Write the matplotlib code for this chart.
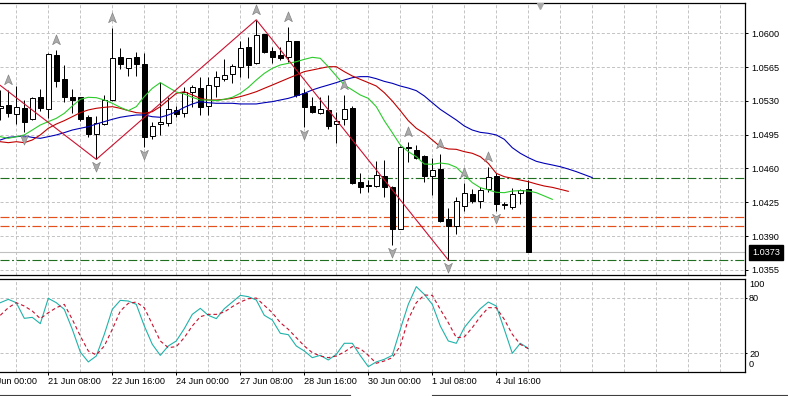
import numpy as np
import matplotlib
matplotlib.use('Agg')
import matplotlib.pyplot as plt
from matplotlib.path import Path
from matplotlib.lines import Line2D
import matplotlib.transforms as mtransforms

plt.rcParams['font.family'] = ['Liberation Sans', 'DejaVu Sans']
plt.rcParams['lines.scale_dashes'] = False

# ---------------- data (4H candles) ----------------
opens = [1.05223, 1.05257, 1.05164, 1.05230, 1.05109, 1.05337, 1.05212, 1.05775, 1.05523, 1.05340,
         1.05337, 1.05136, 1.04953, 1.05060, 1.05305, 1.05751, 1.05644, 1.05751, 1.05682, 1.04940,
         1.05057, 1.05067, 1.05206, 1.05171, 1.05389, 1.05430, 1.05247, 1.05454, 1.05530, 1.05578,
         1.05647, 1.05855, 1.05689, 1.05993, 1.05820, 1.05775, 1.05758, 1.05920, 1.05378, 1.05247,
         1.05171, 1.05206, 1.05057, 1.05109, 1.05223, 1.04456, 1.04429, 1.04418, 1.04522, 1.04404,
         1.03976, 1.04826, 1.04791, 1.04732, 1.04522, 1.04594, 1.04076, 1.04007, 1.04215, 1.04339,
         1.04259, 1.04384, 1.04522, 1.04218, 1.04204, 1.04342, 1.04387]
highs = [1.05413, 1.05413, 1.05454, 1.05309, 1.05337, 1.05423, 1.05793, 1.05827, 1.05672, 1.05420,
         1.05337, 1.05154, 1.05143, 1.05361, 1.06058, 1.05851, 1.05748, 1.05810, 1.05799, 1.05085,
         1.05499, 1.05344, 1.05247, 1.05440, 1.05464, 1.05551, 1.05551, 1.05610, 1.05734, 1.05679,
         1.05924, 1.05958, 1.06140, 1.05993, 1.05862, 1.05862, 1.06069, 1.05920, 1.05420, 1.05344,
         1.05344, 1.05361, 1.05188, 1.05361, 1.05247, 1.04549, 1.04480, 1.04681, 1.04688, 1.04418,
         1.04836, 1.04877, 1.04843, 1.04739, 1.04705, 1.04746, 1.04187, 1.04308, 1.04446, 1.04387,
         1.04404, 1.04618, 1.04549, 1.04256, 1.04394, 1.04387, 1.04480]
lows = [1.05102, 1.05136, 1.05060, 1.04981, 1.05102, 1.05199, 1.05119, 1.05440, 1.05292, 1.05178,
        1.05095, 1.04929, 1.04694, 1.05050, 1.05300, 1.05630, 1.05558, 1.05558, 1.04826, 1.04902,
        1.04947, 1.05040, 1.05130, 1.05130, 1.05233, 1.05154, 1.05154, 1.05344, 1.05502, 1.05489,
        1.05544, 1.05534, 1.05680, 1.05799, 1.05689, 1.05723, 1.05706, 1.05344, 1.05033, 1.05178,
        1.05164, 1.05009, 1.04860, 1.05050, 1.04436, 1.04349, 1.04360, 1.04404, 1.04301, 1.03807,
        1.03969, 1.04670, 1.04694, 1.04463, 1.04325, 1.04050, 1.03652, 1.03921, 1.04163, 1.04239,
        1.04190, 1.04360, 1.04163, 1.04177, 1.04177, 1.04232, 1.03731]
closes = [1.05247, 1.05171, 1.05233, 1.05085, 1.05326, 1.05223, 1.05786, 1.05509, 1.05344, 1.05309,
          1.05112, 1.04957, 1.05067, 1.05309, 1.05741, 1.05679, 1.05741, 1.05679, 1.04929, 1.05043,
          1.05078, 1.05212, 1.05164, 1.05395, 1.05440, 1.05233, 1.05464, 1.05551, 1.05565, 1.05661,
          1.05844, 1.05675, 1.05982, 1.05810, 1.05758, 1.05748, 1.05924, 1.05361, 1.05233, 1.05188,
          1.05216, 1.05043, 1.05095, 1.05216, 1.04446, 1.04404, 1.04418, 1.04532, 1.04411, 1.03969,
          1.04826, 1.04808, 1.04712, 1.04525, 1.04584, 1.04059, 1.04007, 1.04263, 1.04342, 1.04263,
          1.04377, 1.04508, 1.04228, 1.04228, 1.04332, 1.04377, 1.03731]

# Alligator lines (drawn with their forward shift)
lips = [1.04929, 1.04912, 1.04929, 1.04947, 1.04998, 1.05050, 1.05085, 1.05119, 1.05171, 1.05247,
        1.05316, 1.05337, 1.05333, 1.05309, 1.05275, 1.05233, 1.05199, 1.05240, 1.05344, 1.05430,
        1.05489, 1.05440, 1.05392, 1.05371, 1.05337, 1.05309, 1.05309, 1.05302, 1.05316, 1.05337,
        1.05378, 1.05440, 1.05516, 1.05585, 1.05637, 1.05672, 1.05689, 1.05706, 1.05730, 1.05751,
        1.05741, 1.05654, 1.05558, 1.05464, 1.05413, 1.05361, 1.05326, 1.05240, 1.05095, 1.04971,
        1.04843, 1.04774, 1.04722, 1.04646, 1.04643, 1.04656, 1.04646, 1.04612, 1.04532, 1.04453,
        1.04401, 1.04377, 1.04353, 1.04349, 1.04366, 1.04370, 1.04366, 1.04349, 1.04315, 1.04280]
teeth = [1.04877, 1.04867, 1.04877, 1.04867, 1.04895, 1.04947, 1.05016, 1.05060, 1.05095, 1.05136,
         1.05178, 1.05206, 1.05223, 1.05233, 1.05240, 1.05223, 1.05199, 1.05178, 1.05171, 1.05188,
         1.05240, 1.05309, 1.05378, 1.05395, 1.05361, 1.05326, 1.05309, 1.05309, 1.05316, 1.05326,
         1.05344, 1.05368, 1.05395, 1.05430, 1.05464, 1.05499, 1.05534, 1.05568, 1.05603, 1.05620,
         1.05637, 1.05654, 1.05654, 1.05603, 1.05558, 1.05523, 1.05489, 1.05454, 1.05385, 1.05299,
         1.05199, 1.05095, 1.05016, 1.04964, 1.04895, 1.04826, 1.04802, 1.04798, 1.04774, 1.04757,
         1.04722, 1.04653, 1.04549, 1.04515, 1.04498, 1.04480, 1.04463, 1.04439, 1.04418, 1.04404,
         1.04384, 1.04363]
jaw = [1.04895, 1.04922, 1.04929, 1.04936, 1.04922, 1.04912, 1.04929, 1.04947, 1.04971, 1.04998,
       1.05016, 1.05033, 1.05060, 1.05085, 1.05109, 1.05130, 1.05143, 1.05154, 1.05154, 1.05136,
       1.05130, 1.05154, 1.05188, 1.05233, 1.05268, 1.05292, 1.05281, 1.05275, 1.05275, 1.05275,
       1.05268, 1.05268, 1.05268, 1.05281, 1.05292, 1.05309, 1.05326, 1.05351, 1.05378, 1.05413,
       1.05440, 1.05464, 1.05489, 1.05516, 1.05540, 1.05551, 1.05551, 1.05530, 1.05502, 1.05482,
       1.05454, 1.05433, 1.05406, 1.05351, 1.05281, 1.05212, 1.05157, 1.05102, 1.05040, 1.04998,
       1.04974, 1.04964, 1.04947, 1.04902, 1.04815, 1.04757, 1.04712, 1.04674, 1.04653, 1.04636,
       1.04618, 1.04594, 1.04567, 1.04536, 1.04505]

zigzag_index = [0, 12, 32, 56]
zigzag_price = [1.0546, 1.04694, 1.0614, 1.03652]

up_fractals = [1, 7, 14, 32, 36, 43, 51, 55, 58, 61]
down_fractals = [3, 12, 18, 38, 49, 56, 62]

green_levels = [1.0450, 1.0365]
orange_levels = [1.0410, 1.0400]
bid_price = 1.0373
chart_shift_index = 67.5

stoch_main = [74.6, 78.2, 74.6, 57.7, 58.8, 52.0, 79.3, 74.6, 67.4, 45.9,
              21.4, 10.7, 17.1, 40.5, 67.4, 77.1, 76.4, 72.8, 49.5, 29.7,
              17.8, 27.9, 33.3, 46.6, 62.0, 68.5, 61.0, 57.4, 68.1, 75.3,
              82.5, 81.1, 77.5, 61.0, 55.9, 41.6, 40.1, 27.9, 22.5, 15.3,
              17.8, 12.8, 18.9, 30.8, 30.8, 17.5, 5.6, 10.7, 13.5, 17.8,
              45.9, 72.8, 91.9, 83.6, 72.8, 49.5, 33.3, 30.8, 47.7, 58.4,
              68.1, 75.3, 71.0, 45.9, 20.0, 30.8, 25.4]
stoch_signal = [61.0, 69.2, 74.6, 71.0, 65.6, 57.4, 63.8, 69.2, 72.8, 56.6,
                38.7, 22.5, 18.2, 27.9, 45.9, 65.6, 73.9, 75.3, 69.2, 51.3,
                33.3, 26.1, 27.2, 36.9, 49.5, 59.5, 62.0, 62.0, 64.5, 70.3,
                75.3, 78.9, 79.6, 71.7, 63.8, 53.1, 45.9, 36.9, 27.9, 20.7,
                17.1, 15.3, 17.1, 21.4, 27.2, 25.0, 17.8, 9.2, 11.7, 15.3,
                27.9, 56.6, 74.6, 82.9, 82.5, 67.4, 53.1, 36.9, 37.6, 47.7,
                59.5, 69.2, 69.2, 56.6, 40.5, 29.7, 25.0]
stoch_levels = [20, 80]

time_label_index = [-2, 6, 14, 22, 30, 38, 46, 54, 62]
time_labels = ['20 Jun 00:00', '21 Jun 08:00', '22 Jun 16:00', '24 Jun 00:00', '27 Jun 08:00',
               '28 Jun 16:00', '30 Jun 00:00', '1 Jul 08:00', '4 Jul 16:00']
price_ticks = [1.0355, 1.0390, 1.0425, 1.0460, 1.0495, 1.0530, 1.0565, 1.0600]

# ---------------- layout ----------------
W, H = 788, 396
fig = plt.figure(figsize=(W / 100, H / 100), dpi=100)
fig.patch.set_facecolor('white')


def frac(l, t, r, b):
    return [l / W, 1 - b / H, (r - l) / W, (b - t) / H]


ax = fig.add_axes(frac(0, 2.7, 745, 275.3))
ax2 = fig.add_axes(frac(0, 278.5, 745, 371.7))

PX = 0.72  # one pixel in points
FS = 6.6
GRID = dict(color='#C4C4C4', lw=PX, ls=(0, (2.2, 1.5)), zorder=0)

xmin, xmax = -0.0375, 93.09
for a in (ax, ax2):
    a.set_xlim(xmin, xmax)
    a.set_facecolor('white')
    a.spines['left'].set_visible(False)
    for s in ('top', 'right', 'bottom'):
        a.spines[s].set_linewidth(0.9)
        a.spines[s].set_color('black')
    for gx in np.arange(2, xmax, 4):
        a.axvline(gx, **GRID)

# ---- main panel ----
ax.set_ylim(1.03493, 1.06317)
ax.set_yticks(price_ticks)
ax.set_yticklabels([f'{v:.4f}' for v in price_ticks])
ax.set_xticks([])
ax.yaxis.tick_right()
ax.tick_params(axis='y', right=True, left=False, labelright=True, labelleft=False,
               length=3 * PX, width=PX, pad=3.5 * PX, labelsize=FS, colors='black')
for yv in price_ticks:
    ax.axhline(yv, **GRID)

for v in green_levels:
    ax.axhline(v, color='#1F6E1F', lw=0.8, ls=(0, (6.5, 1.8, 1.4, 1.8)), zorder=2)
for v in orange_levels:
    ax.axhline(v, color='#E2501E', lw=0.85, ls=(0, (6.5, 1.8, 1.4, 1.8)), zorder=2)
ax.axhline(bid_price, color='#C0C0C0', lw=0.8, zorder=2)

o = np.array(opens); h = np.array(highs); l = np.array(lows); c = np.array(closes)
x = np.arange(len(o))
ax.vlines(x, l, h, color='black', lw=PX, zorder=3)
bodies_bottom = np.minimum(o, c)
bodies_h = np.maximum(np.abs(c - o), 1e-7)
body_colors = ['white' if cc >= oo else 'black' for oo, cc in zip(o, c)]
ax.bar(x, bodies_h, bottom=bodies_bottom, width=0.6, color=body_colors,
       edgecolor='black', linewidth=PX, zorder=4)

ax.plot(np.arange(len(jaw)), jaw, color='#0000B4', lw=0.8, zorder=5)
ax.plot(np.arange(len(teeth)), teeth, color='#C00000', lw=0.8, zorder=5)
ax.plot(np.arange(len(lips)), lips, color='#2BCB2B', lw=0.8, zorder=5)
ax.plot(zigzag_index, zigzag_price, color='#CC1030', lw=0.8, zorder=5)

up_arrow = Path([(0, 1), (0.7, -0.75), (0, -0.3), (-0.7, -0.75), (0, 1)],
                [Path.MOVETO, Path.LINETO, Path.LINETO, Path.LINETO, Path.CLOSEPOLY])
down_arrow = Path([(0, -1), (0.7, 0.75), (0, 0.3), (-0.7, 0.75), (0, -1)],
                  [Path.MOVETO, Path.LINETO, Path.LINETO, Path.LINETO, Path.CLOSEPOLY])
tr_up = mtransforms.offset_copy(ax.transData, fig=fig, x=0, y=10, units='dots')
tr_dn = mtransforms.offset_copy(ax.transData, fig=fig, x=0, y=-7, units='dots')
ax.plot(up_fractals, h[up_fractals], ls='none', marker=up_arrow, ms=8,
        mfc='#ABABAB', mec='#858585', mew=0.5, transform=tr_up, zorder=6)
ax.plot(down_fractals, l[down_fractals], ls='none', marker=down_arrow, ms=8,
        mfc='#ABABAB', mec='#858585', mew=0.5, transform=tr_dn, zorder=6)

blend = mtransforms.blended_transform_factory(ax.transData, ax.transAxes)
ax.plot([chart_shift_index], [0.988], marker='v', ms=4.5, color='#A8A8A8',
        transform=blend, ls='none', zorder=6)

tr_lbl = mtransforms.offset_copy(
    mtransforms.blended_transform_factory(ax.transAxes, ax.transData),
    fig=fig, x=7, y=0, units='dots')
ax.text(1.0, bid_price, f'{bid_price:.4f}', transform=tr_lbl, ha='left', va='center',
        color='white', fontsize=FS, clip_on=False, zorder=10,
        bbox=dict(boxstyle='square,pad=0.32', fc='black', ec='black'))

# ---- stochastic panel ----
ax2.set_ylim(0.15, 100.7)
ax2.set_yticks(stoch_levels)
ax2.set_yticklabels([str(v) for v in stoch_levels])
ax2.yaxis.tick_right()
ax2.tick_params(axis='y', right=True, left=False, labelright=True, labelleft=False,
                length=2 * PX, width=PX, pad=2 * PX, labelsize=FS, colors='black')
for yv in stoch_levels:
    ax2.axhline(yv, **GRID)
ax2.annotate('100', xy=(1, 1), xycoords='axes fraction', xytext=(4, -6),
             textcoords='offset pixels', ha='left', va='center', fontsize=FS,
             annotation_clip=False)
ax2.annotate('0', xy=(1, 0), xycoords='axes fraction', xytext=(4, 7),
             textcoords='offset pixels', ha='left', va='center', fontsize=FS,
             annotation_clip=False)

xs = np.arange(len(stoch_main))
ax2.plot(xs, stoch_main, color='#20B2AA', lw=0.8, zorder=4)
ax2.plot(np.arange(len(stoch_signal)), stoch_signal, color='#C8102E', lw=0.8,
         ls=(0, (2.6, 2.0)), zorder=4)

ax2.set_xticks([t for t in time_label_index if t >= xmin])
ax2.set_xticklabels([])
ax2.tick_params(axis='x', bottom=True, length=3 * PX, width=PX, direction='out')
for idx, lab in zip(time_label_index, time_labels):
    ax2.annotate(lab, xy=(idx, 0), xycoords=('data', 'axes fraction'), xytext=(0, -5),
                 textcoords='offset pixels', ha='left', va='top', fontsize=FS,
                 annotation_clip=False)

# window bottom edge
yb = 1 - 394.5 / H
fig.add_artist(Line2D([0, 350 / W], [yb, yb], color='#404040', lw=0.8))
fig.add_artist(Line2D([432 / W, 1], [yb, yb], color='#404040', lw=0.8))

fig.savefig('out.png', dpi=100, facecolor='white')
